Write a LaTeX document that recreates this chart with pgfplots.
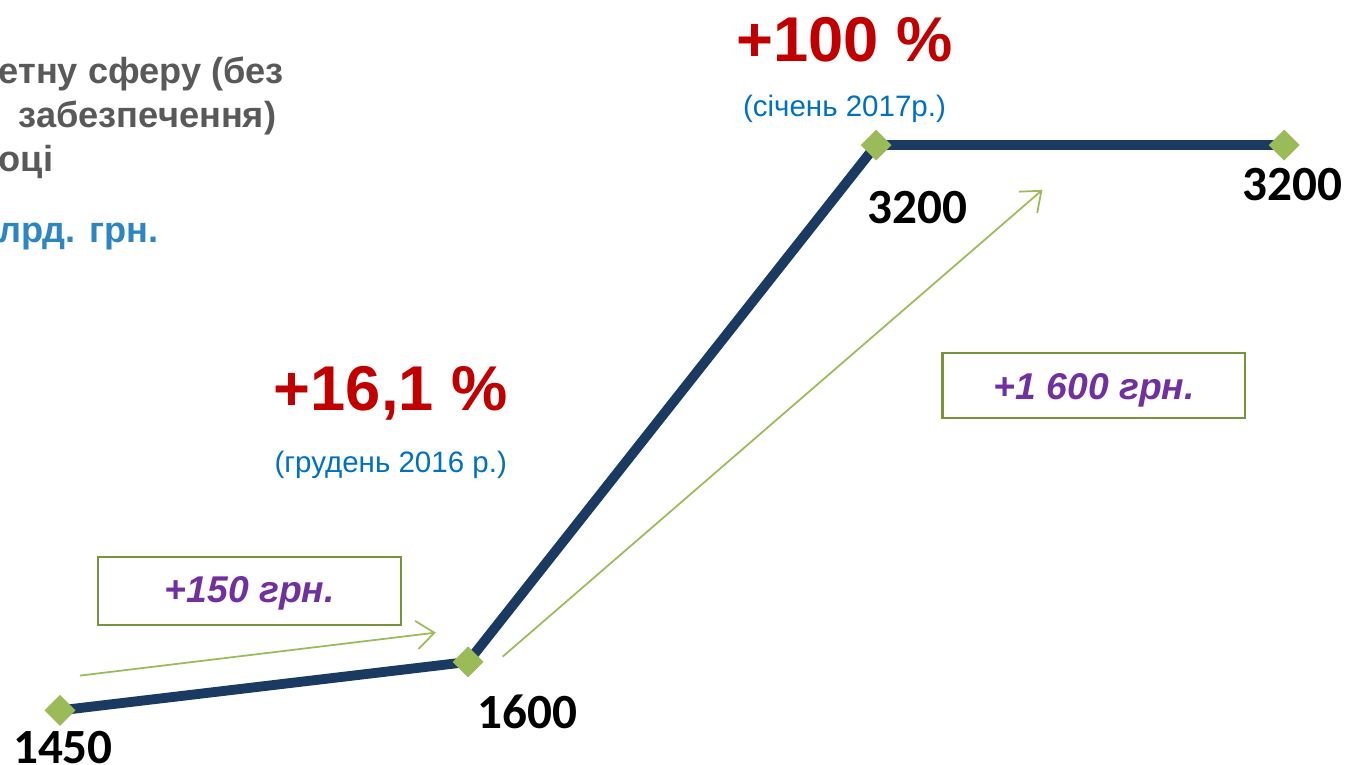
\documentclass[border=0pt]{standalone}
\usepackage{pgfplots}
\pgfplotsset{compat=1.18}
\usepackage{fontspec}
\setmainfont{Liberation Sans}
\newfontfamily\calib{Carlito}
\usetikzlibrary{arrows.meta}
\definecolor{navy}{HTML}{1B3A62}
\definecolor{mgreen}{HTML}{9BBB59}
\definecolor{bgreen}{HTML}{77933C}
\definecolor{myred}{HTML}{C00000}
\definecolor{myblue}{HTML}{0070C0}
\definecolor{lblue}{HTML}{2E86C1}
\definecolor{mgray}{HTML}{595959}
\definecolor{mpurple}{HTML}{7030A0}
\begin{document}
\begin{tikzpicture}
  \begin{axis}[
    scale only axis,
    width=13.56cm, height=7.65cm,
    hide axis,
    xmin=-0.147, xmax=3.176,
    ymin=1281, ymax=3649,
    clip=false
    ]
    \addplot[navy, line width=2.8pt, mark=square*,
      mark size=2.9pt,
      mark options={fill=mgreen, draw=mgreen, rotate=45, line width=0.4pt}]
      coordinates {(0,1450) (1,1600) (2,3200) (3,3200)};
  \end{axis}
  % annotations in pixel coordinates of the reference
  \begin{scope}[x=0.01cm, y=-0.01cm, shift={(0,7.65cm)}]
    \node[anchor=west, align=left, text=mgray, font=\fontsize{10.3}{12.6}\selectfont\bfseries, inner sep=0pt]
      at (-2,118) {етну сферу (без\\ \phantom{x}забезпечення)\\оці};
    \node[anchor=west, text=lblue, font=\fontsize{10.3}{12}\selectfont\bfseries, inner sep=0pt]
      at (-2,237) {лрд. грн.};
    \node[text=myred, font=\fontsize{18}{21}\selectfont\bfseries] at (845,40) {+100 \%};
    \node[text=myblue, font=\fontsize{8.4}{10}\selectfont] at (845,109) {(січень 2017р.)};
    \node[text=myred, font=\fontsize{18}{21}\selectfont\bfseries] at (391,394) {+16,1 \%};
    \node[text=myblue, font=\fontsize{8.4}{10}\selectfont] at (391,465) {(грудень 2016 р.)};
    \draw[bgreen, line width=0.6pt] (98,557) rectangle (401,625);
    \node[text=mpurple, font=\fontsize{10.6}{12}\selectfont\bfseries\itshape] at (250,594) {+150 грн.};
    \draw[bgreen, line width=0.6pt] (943,353) rectangle (1246,418);
    \node[text=mpurple, font=\fontsize{10.6}{12}\selectfont\bfseries\itshape] at (1095,391) {+1 600 грн.};
    \draw[mgreen, line width=0.5pt, -{Straight Barb[length=5pt, width=8pt]}] (80,676) -- (436,633);
    \draw[mgreen, line width=0.5pt, -{Straight Barb[length=5pt, width=8pt]}] (503,657) -- (1043,190);
    \node[font=\calib\fontsize{14}{16}\selectfont\bfseries] at (63,748) {1450};
    \node[font=\calib\fontsize{14}{16}\selectfont\bfseries] at (528,712) {1600};
    \node[font=\calib\fontsize{14}{16}\selectfont\bfseries] at (918,208) {3200};
    \node[font=\calib\fontsize{14}{16}\selectfont\bfseries] at (1293,185) {3200};
  \end{scope}
  \pgfresetboundingbox
  \path (0,0) rectangle (13.56,7.65);
\end{tikzpicture}
\end{document}
